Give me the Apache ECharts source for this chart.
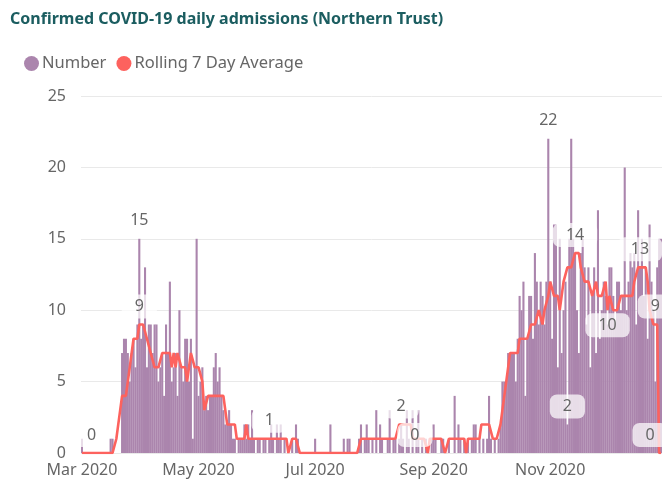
<!DOCTYPE html>
<html>
<head>
<meta charset="utf-8">
<script src="https://cdn.jsdelivr.net/npm/echarts@6/dist/echarts.min.js"></script>
<style>
  html, body { margin: 0; padding: 0; background: #fff; }
  #chart { width: 664px; height: 486px; }
</style>
</head>
<body>
<div id="chart"></div>
<script>
// Daily series start on this date, one value per day
const startDate = '2020-03-01';

// Confirmed daily admissions
const number = [
  1,0,0,0,0,0,0,0,0,0, 0,0,0,0,0,1,1,0,0,0,
  0,7,8,8,7,5,7,8,6,9, 15,8,9,13,6,9,9,7,9,9,
  5,6,7,4,9,7,12,5,6,7, 4,10,6,5,8,8,5,8,1,6,
  15,4,5,6,3,4,3,4,4,6, 7,5,6,4,3,2,2,3,2,1,
  1,0,1,1,1,2,1,2,1,3, 1,0,1,1,0,1,1,0,1,2,
  1,0,2,1,2,0,1,0,0,0, 1,0,2,1,0,0,0,0,0,0,
  0,0,1,0,0,0,0,0,0,0, 2,0,0,0,0,0,0,1,0,1,
  1,0,0,0,0,1,2,0,1,2, 1,0,1,0,3,0,2,1,0,0,
  1,3,0,1,1,0,1,2,1,0, 3,1,0,3,0,1,3,0,1,0,
  1,0,0,1,2,1,0,0,1,1, 0,0,1,0,0,4,0,2,1,0,
  1,0,1,0,1,2,2,0,1,0, 1,0,1,4,1,0,1,0,1,2,
  5,5,5,7,7,7,7,5,8,11, 10,12,4,8,11,11,8,14,12,9,
  12,11,9,12,22,12,8,16,16,6, 15,7,10,12,2,15,22,15,14,10,
  7,14,15,13,9,13,6,11,13,7, 17,8,10,12,11,9,13,13,11,9,
  12,12,10,11,20,10,12,14,13,14, 9,17,13,15,11,13,8,16,12,10,
  5,13,15,15
];

// Rolling 7 day average, rounded to whole admissions
const rolling = [
  0,0,0,0,0,0,0,0,0,0, 0,0,0,0,0,0,0,0,1,2,
  3,4,4,4,5,6,7,8,8,8, 9,9,9,9,8,8,7,7,6,6,
  6,6,7,7,7,7,7,6,7,6, 7,7,6,6,6,5,6,7,7,6,
  6,6,6,5,3,3,4,4,4,4, 4,4,4,4,4,3,2,2,2,2,
  2,1,1,1,1,1,2,1,1,1, 1,1,1,1,1,1,1,1,1,1,
  1,1,1,1,1,1,1,1,0,0, 1,1,1,1,0,0,0,0,0,0,
  0,0,0,0,0,0,0,0,0,0, 0,0,0,0,0,0,0,0,0,0,
  0,0,0,0,0,0,1,1,1,1, 1,1,1,1,1,1,1,1,1,1,
  1,1,1,1,1,1,2,2,2,2, 2,2,2,1,1,1,1,1,1,1,
  1,0,1,1,1,1,1,1,1,1, 0,0,1,1,1,1,1,1,1,1,
  1,0,1,1,1,1,1,1,1,2, 2,2,2,2,2,1,1,1,1,2,
  3,4,5,6,7,7,7,7,7,8, 8,8,8,8,8,9,9,9,9,10,
  10,9,10,10,11,12,12,11,11,11, 10,11,12,12,13,13,13,13,14,14,
  14,13,13,12,12,12,12,11,11,12, 11,11,11,11,12,10,11,11,10,10,
  10,10,11,11,11,11,11,11,11,12, 12,13,13,13,13,13,12,10,10,9,
  9,9,0,0
];

// Axis ticks
const yTicks = [0, 5, 10, 15, 20, 25];
const xTickMonths = [3, 5, 7, 9, 11];
const monthNames = ['Jan','Feb','Mar','Apr','May','Jun','Jul','Aug','Sep','Oct','Nov','Dec'];

// Days whose values are printed on the chart
const numberLabelDays = [30, 244, 254];
const rollingLabelDays = [5, 30, 98, 167, 181, 258, 275, 292, 300, 303];

// One category per day
const days = [];
{
  const d0 = new Date(startDate + 'T00:00:00Z');
  for (let i = 0; i < number.length; i++) {
    const d = new Date(d0.getTime() + i * 86400000);
    days.push(d.toISOString().slice(0, 10));
  }
}

const labelBox = {
  show: true,
  position: 'top',
  distance: 6,
  color: '#666',
  fontSize: 16,
  fontFamily: 'Noto Sans, sans-serif',
  backgroundColor: 'rgba(255,255,255,0.72)',
  borderRadius: 7,
  padding: [4, 13]
};

// per-label placement tweaks for the rolling average
const rollingLabelTweaks = {
  181: { offset: [-13, 0] },
  275: { position: 'bottom', distance: 3 },
  303: { offset: [-11, 0] }
};

const numberData = number.map((v, i) =>
  numberLabelDays.includes(i) ? { value: v, label: Object.assign({}, labelBox) } : v);

const rollingData = rolling.map((v, i) =>
  rollingLabelDays.includes(i)
    ? { value: v, label: Object.assign({}, labelBox, rollingLabelTweaks[i] || {}) }
    : v);

const chart = echarts.init(document.getElementById('chart'));
chart.setOption({
  animation: false,
  backgroundColor: '#fff',
  textStyle: { fontFamily: 'Noto Sans, sans-serif' },
  title: {
    text: 'Confirmed COVID-19 daily admissions (Northern Trust)',
    left: 5,
    top: 6,
    textStyle: { color: '#1b5d60', fontSize: 16, fontWeight: 'bold', fontFamily: 'Noto Sans, sans-serif' }
  },
  legend: {
    left: 19,
    top: 50,
    icon: 'circle',
    itemWidth: 15,
    itemHeight: 15,
    itemGap: 10,
    textStyle: { color: '#666', fontSize: 16.5, padding: [0, 0, 0, -2] },
    data: ['Number', 'Rolling 7 Day Average']
  },
  grid: { left: 81, right: 2, top: 96, bottom: 33 },
  xAxis: {
    type: 'category',
    data: days,
    axisLine: { show: false },
    axisTick: { show: false },
    axisLabel: {
      color: '#666',
      fontSize: 16,
      margin: 9,
      interval: (i, val) => {
        const m = +val.slice(5, 7);
        return val.slice(8) === '01' && xTickMonths.includes(m);
      },
      formatter: val => monthNames[+val.slice(5, 7) - 1] + ' ' + val.slice(0, 4)
    }
  },
  yAxis: {
    type: 'value',
    min: yTicks[0],
    max: yTicks[yTicks.length - 1],
    interval: 5,
    axisLabel: { color: '#666', fontSize: 16, margin: 15 },
    splitLine: { lineStyle: { color: '#e9e9e9', width: 1 } }
  },
  series: [
    {
      name: 'Number',
      type: 'bar',
      data: numberData,
      itemStyle: { color: '#ab85ad' },
      barWidth: 2.1
    },
    {
      name: 'Rolling 7 Day Average',
      type: 'line',
      data: rollingData,
      symbol: 'circle',
      symbolSize: 0,
      showSymbol: true,
      showAllSymbol: true,
      itemStyle: { color: '#fd625e' },
      lineStyle: { color: '#fd625e', width: 2.6 },
      z: 3
    }
  ]
});
</script>
</body>
</html>
